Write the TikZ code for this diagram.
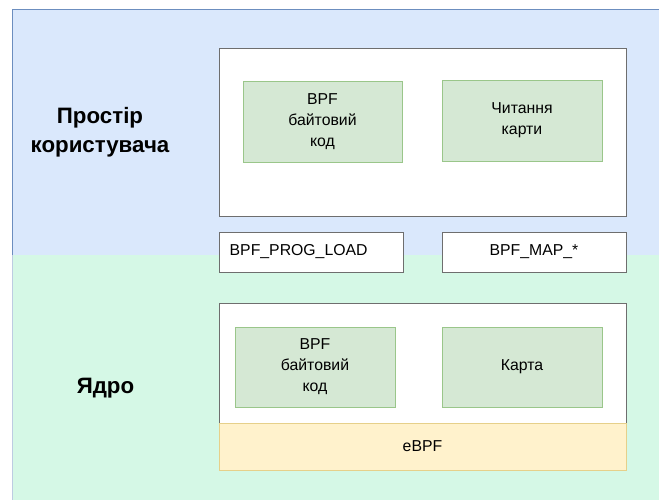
\documentclass[tikz,border=0pt]{standalone}
\usepackage{fontspec}
\setmainfont{Liberation Sans}
\definecolor{userfill}{HTML}{DAE8FC}
\definecolor{userline}{HTML}{6C8EBF}
\definecolor{kernfill}{HTML}{D5F8E6}
\definecolor{progfill}{HTML}{D5E8D4}
\definecolor{progline}{HTML}{9AC68A}
\definecolor{corefill}{HTML}{FFF2CC}
\definecolor{coreline}{HTML}{E6D08A}
\definecolor{frameline}{HTML}{6E6E6E}
\begin{document}
\begin{tikzpicture}[x=1pt,y=-1pt,
  every node/.style={inner sep=0pt, align=center, font=\fontsize{15.8}{21}\selectfont},
  frame/.style={draw=frameline, line width=1pt, fill=white},
  prog/.style={draw=progline, line width=0.8pt, fill=progfill},
  call/.style={draw=frameline, line width=1pt, fill=white},
  core/.style={draw=coreline, line width=0.8pt, fill=corefill},
  title/.style={font=\fontsize{22.3}{29}\selectfont\bfseries}]
\useasboundingbox (0,0) rectangle (659,500);

% user space and kernel space bands
\fill[userfill] (12,9) rectangle (662,503);
\draw[userline, line width=0.8pt] (662,9) -- (12,9) -- (12,503);
\fill[kernfill] (12.4,255) rectangle (662,503);
\draw[userline!45, line width=0.8pt] (12,255) -- (12,503);

\node[title] (usertitle) at (100,132.5) {Простір\\користувача};
\node[title] (kerntitle) at (105.5,388) {Ядро};

% user space program
\node[frame, minimum width=407pt, minimum height=167pt] (userbox) at (422.5,132.5) {};
\node[prog, minimum width=159pt, minimum height=81pt] (ubyte) at (322.5,122) {BPF\\байтовий\\код};
\node[prog, minimum width=160pt, minimum height=81pt] (readmap) at (522,120.5) {Читання\\карти};

% system calls
\node[call, minimum width=184pt, minimum height=40pt] (progload) at (311,252) {};
\node[anchor=west] (progloadtext) at (progload.west) [xshift=11pt] {BPF\_PROG\_LOAD};
\node[call, minimum width=184pt, minimum height=40pt] (mapcalls) at (534,252) {BPF\_MAP\_*};

% kernel side
\node[frame, minimum width=407pt, minimum height=120pt] (kernbox) at (422.5,363) {};
\node[core, minimum width=407pt, minimum height=47pt] (ebpf) at (422.5,446.5) {eBPF};
\node[prog, minimum width=160pt, minimum height=80pt] (kbyte) at (315,367) {BPF\\байтовий\\код};
\node[prog, minimum width=160pt, minimum height=80pt] (kmap) at (522,367) {Карта};
\end{tikzpicture}
\end{document}
